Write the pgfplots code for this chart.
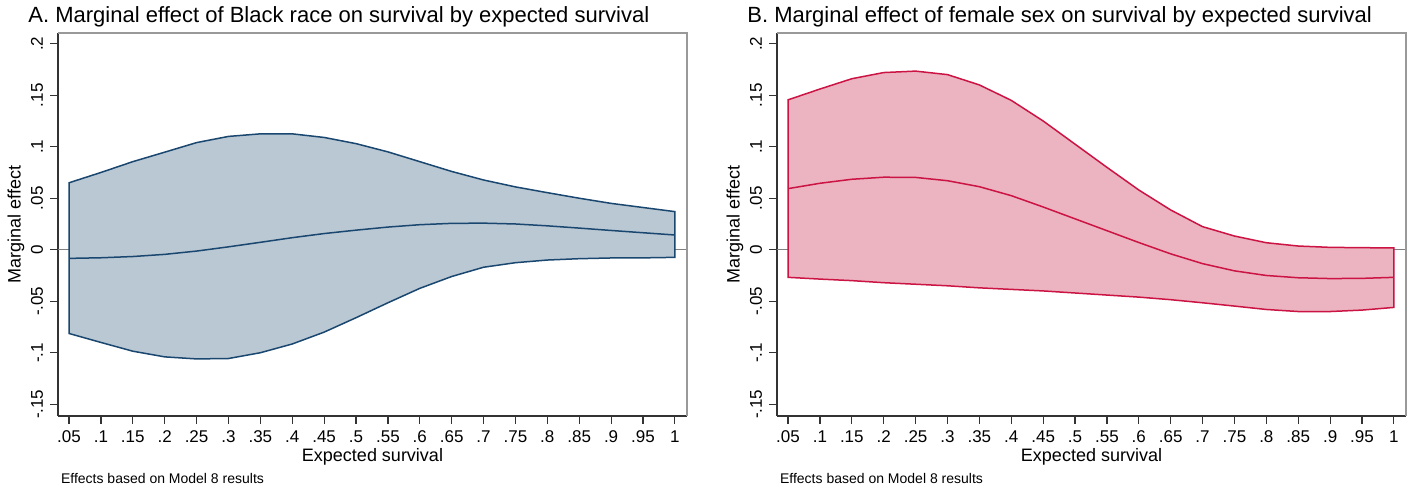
\documentclass[border=0pt]{standalone}
\usepackage{fontspec}
\setmainfont{Liberation Sans}
\usepackage{pgfplots}
\pgfplotsset{compat=1.18}

\definecolor{navyl}{HTML}{1A476F}
\definecolor{navyf}{HTML}{BAC8D4}
\definecolor{cranl}{HTML}{CC1444}
\definecolor{cranf}{HTML}{ECB3C0}

\pgfplotsset{stata/.style={
    width=314.5pt, height=191.5pt, scale only axis,
    xmin=0.0327, xmax=1.019, ymin=-0.1614, ymax=0.2104,
    axis lines=left,
    axis line style={black!80, line width=0.6pt, -},
    tick align=outside, major tick length=4pt,
    tick style={black!80, line width=0.6pt},
    xtick={0.05,0.1,0.15,0.2,0.25,0.3,0.35,0.4,0.45,0.5,0.55,0.6,0.65,0.7,0.75,0.8,0.85,0.9,0.95,1},
    xticklabels={.05,.1,.15,.2,.25,.3,.35,.4,.45,.5,.55,.6,.65,.7,.75,.8,.85,.9,.95,1},
    ytick={-0.15,-0.1,-0.05,0,0.05,0.1,0.15,0.2},
    yticklabels={-.15,-.1,-.05,0,.05,.1,.15,.2},
    tick label style={font=\fontsize{8.5}{10}\selectfont},
    yticklabel style={rotate=90, anchor=south},
    xlabel={Expected survival},
    ylabel={Marginal effect},
    label style={font=\fontsize{9}{11}\selectfont},
    xlabel style={at={(axis description cs:0.5,-0.107)}, anchor=center},
    ylabel style={at={(axis description cs:-0.0668,0.5)}, anchor=center},
    clip=false,
}}

\begin{document}
\begin{tikzpicture}
\useasboundingbox (-29pt,-37.5pt) rectangle (677pt,208pt);

% Panel A
\begin{axis}[stata]
\addplot[gray, line width=0.75pt] coordinates {(0.0327,0) (1.019,0)};
\addplot[draw=navyl, fill=navyf, line width=0.75pt] coordinates {
(0.05,0.065) (0.1,0.075) (0.15,0.0855) (0.2,0.0947) (0.25,0.104) (0.3,0.110)
(0.35,0.1125) (0.4,0.1125) (0.45,0.109) (0.5,0.103) (0.55,0.095) (0.6,0.0855)
(0.65,0.076) (0.7,0.0677) (0.75,0.061) (0.8,0.0554) (0.85,0.050) (0.9,0.045)
(0.95,0.041) (1,0.037)
(1,-0.0074) (0.95,-0.0079) (0.9,-0.008) (0.85,-0.0087) (0.8,-0.010) (0.75,-0.0126)
(0.7,-0.017) (0.65,-0.026) (0.6,-0.0375) (0.55,-0.0515) (0.5,-0.066) (0.45,-0.080)
(0.4,-0.0915) (0.35,-0.100) (0.3,-0.1056) (0.25,-0.106) (0.2,-0.104) (0.15,-0.0985)
(0.1,-0.090) (0.05,-0.0813)
} -- cycle;
\addplot[navyl, line width=0.75pt] coordinates {
(0.05,-0.0084) (0.1,-0.0078) (0.15,-0.0066) (0.2,-0.0045) (0.25,-0.0013) (0.3,0.0028)
(0.35,0.0072) (0.4,0.0117) (0.45,0.0157) (0.5,0.0190) (0.55,0.0220) (0.6,0.0243)
(0.65,0.0256) (0.7,0.0258) (0.75,0.0250) (0.8,0.0232) (0.85,0.0210) (0.9,0.0187)
(0.95,0.0165) (1,0.0143)
};
\draw[gray!80, line width=0.6pt] (rel axis cs:0,1) -- (rel axis cs:1,1) -- (rel axis cs:1,0);
\node[anchor=base west, font=\fontsize{11}{13}\selectfont, xshift=-18.3pt, yshift=5pt]
  at (rel axis cs:0,1) {A. Marginal effect of Black race on survival by expected survival};
\node[anchor=base west, font=\fontsize{7}{8}\selectfont, xshift=-2pt, yshift=-34pt]
  at (rel axis cs:0,0) {Effects based on Model 8 results};
\end{axis}

% Panel B
\begin{axis}[stata, at={(359.5pt,0pt)}]
\addplot[gray, line width=0.75pt] coordinates {(0.0327,0) (1.019,0)};
\addplot[draw=cranl, fill=cranf, line width=0.75pt] coordinates {
(0.05,0.1455) (0.1,0.156) (0.15,0.166) (0.2,0.172) (0.25,0.1734) (0.3,0.170)
(0.35,0.160) (0.4,0.145) (0.45,0.125) (0.5,0.1025) (0.55,0.0800) (0.6,0.058)
(0.65,0.0386) (0.7,0.0224) (0.75,0.0133) (0.8,0.0068) (0.85,0.0036) (0.9,0.0023)
(0.95,0.002) (1,0.0017)
(1,-0.056) (0.95,-0.0586) (0.9,-0.060) (0.85,-0.060) (0.8,-0.058) (0.75,-0.0547)
(0.7,-0.0515) (0.65,-0.0485) (0.6,-0.0460) (0.55,-0.0440) (0.5,-0.042) (0.45,-0.040)
(0.4,-0.0385) (0.35,-0.037) (0.3,-0.035) (0.25,-0.0335) (0.2,-0.032) (0.15,-0.030)
(0.1,-0.0285) (0.05,-0.0268)
} -- cycle;
\addplot[cranl, line width=0.75pt] coordinates {
(0.05,0.0593) (0.1,0.0645) (0.15,0.0684) (0.2,0.0704) (0.25,0.0702) (0.3,0.0670)
(0.35,0.0612) (0.4,0.0525) (0.45,0.0415) (0.5,0.0300) (0.55,0.0185) (0.6,0.0070)
(0.65,-0.0040) (0.7,-0.0135) (0.75,-0.0205) (0.8,-0.0250) (0.85,-0.0272) (0.9,-0.0280)
(0.95,-0.0278) (1,-0.0268)
};
\draw[gray!80, line width=0.6pt] (rel axis cs:0,1) -- (rel axis cs:1,1) -- (rel axis cs:1,0);
\node[anchor=base west, font=\fontsize{11}{13}\selectfont, xshift=-18.3pt, yshift=5pt]
  at (rel axis cs:0,1) {B. Marginal effect of female sex on survival by expected survival};
\node[anchor=base west, font=\fontsize{7}{8}\selectfont, xshift=-2pt, yshift=-34pt]
  at (rel axis cs:0,0) {Effects based on Model 8 results};
\end{axis}
\end{tikzpicture}
\end{document}
